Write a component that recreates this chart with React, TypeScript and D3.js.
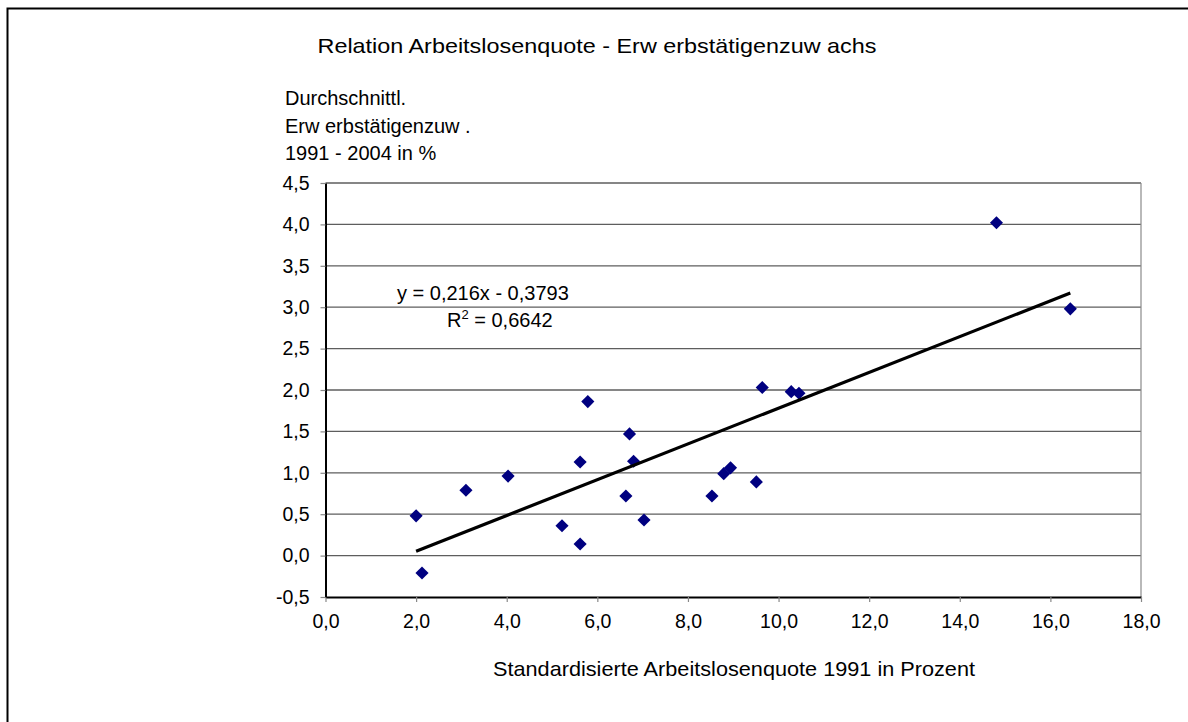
import React, { useEffect, useRef } from 'react';
import * as d3 from 'd3';

const width = 1188;
const height = 722;
const plot = { left: 325.5, right: 1141, top: 183, bottom: 597 };

const chartTitle = 'Relation Arbeitslosenquote - Erw erbstätigenzuw achs';
const yTitleLines = ['Durchschnittl.', 'Erw erbstätigenzuw .', '1991 - 2004 in %'];
const xTitle = 'Standardisierte Arbeitslosenquote 1991 in Prozent';

// standardised unemployment rate 1991 (%)
const unemployment = [2.0, 2.13, 3.1, 4.03, 5.22, 5.62, 5.62, 5.79, 6.63, 6.71, 6.8, 7.03, 8.53, 8.79, 8.94, 9.51, 9.64, 10.28, 10.45, 14.81, 16.44];
// average employment growth 1991 - 2004 (%)
const growth = [0.48, -0.21, 0.79, 0.96, 0.36, 0.14, 1.13, 1.86, 0.72, 1.47, 1.14, 0.43, 0.72, 0.99, 1.06, 0.89, 2.03, 1.98, 1.96, 4.02, 2.98];

const xTicks = [0, 2, 4, 6, 8, 10, 12, 14, 16, 18];
const yTicks = [-0.5, 0, 0.5, 1, 1.5, 2, 2.5, 3, 3.5, 4, 4.5];

const trendSlope = 0.216;
const trendIntercept = -0.3793;
const trendLabel = 'y = 0,216x - 0,3793';
const r2Value = '0,6642';

const font = '"Liberation Sans", Arial, sans-serif';
const fmt = d3.formatLocale({ decimal: ',', thousands: '.', grouping: [3], currency: ['', ' €'], minus: '-' }).format('.1f');

function App() {
  const ref = useRef<SVGSVGElement>(null);

  useEffect(() => {
    const svg = d3.select(ref.current);
    svg.selectAll('*').remove();

    const x = d3.scaleLinear().domain([0, 18]).range([plot.left, plot.right]);
    const y = d3.scaleLinear().domain([-0.5, 4.5]).range([plot.bottom, plot.top]);

    // outer frame
    svg.append('rect')
      .attr('x', 7.5).attr('y', 8.5)
      .attr('width', width + 20).attr('height', height + 20)
      .attr('fill', 'none').attr('stroke', '#000').attr('stroke-width', 2);

    // gridlines
    svg.append('g').selectAll('line')
      .data(yTicks.filter(d => d > -0.5))
      .enter().append('line')
      .attr('x1', plot.left).attr('x2', plot.right)
      .attr('y1', d => y(d)).attr('y2', d => y(d))
      .attr('stroke', '#5e5e5e').attr('stroke-width', 1.3);

    // right plot border
    svg.append('line')
      .attr('x1', plot.right).attr('x2', plot.right)
      .attr('y1', plot.top).attr('y2', plot.bottom)
      .attr('stroke', '#8a8a8a').attr('stroke-width', 1.2);

    // x axis
    const xAxis = d3.axisBottom(x).tickValues(xTicks).tickSize(5).tickSizeOuter(0).tickPadding(12)
      .tickFormat(d => fmt(d as number));
    const gx = svg.append('g')
      .attr('transform', 'translate(0,' + plot.bottom + ')')
      .call(xAxis);
    gx.select('.domain').attr('stroke', '#000').attr('stroke-width', 2);
    gx.selectAll('.tick line').attr('stroke', '#888').attr('stroke-width', 1.2);
    gx.selectAll('text').attr('font-family', font).attr('font-size', 19.5).attr('fill', '#000');

    // y axis
    const yAxis = d3.axisLeft(y).tickValues(yTicks).tickSize(5).tickSizeOuter(0).tickPadding(11)
      .tickFormat(d => fmt(d as number));
    const gy = svg.append('g')
      .attr('transform', 'translate(' + plot.left + ',0)')
      .call(yAxis);
    gy.select('.domain').attr('stroke', '#000').attr('stroke-width', 2);
    gy.selectAll('.tick line').attr('stroke', '#888').attr('stroke-width', 1.2);
    gy.selectAll('text').attr('font-family', font).attr('font-size', 19.5).attr('fill', '#000');

    // points
    svg.append('g').selectAll('path')
      .data(d3.range(unemployment.length))
      .enter().append('path')
      .attr('d', d3.symbol().type(d3.symbolSquare).size(86)())
      .attr('transform', i => 'translate(' + x(unemployment[i]) + ',' + y(growth[i]) + ') rotate(45)')
      .attr('fill', '#000080');

    // linear trend
    const xMin = d3.min(unemployment) as number;
    const xMax = d3.max(unemployment) as number;
    svg.append('path')
      .datum([xMin, xMax])
      .attr('d', d3.line<number>().x(d => x(d)).y(d => y(trendSlope * d + trendIntercept)))
      .attr('stroke', '#000').attr('stroke-width', 3.2).attr('fill', 'none');

    // trend label
    svg.append('text')
      .attr('x', 397).attr('y', 300)
      .attr('font-family', font).attr('font-size', 20)
      .text(trendLabel);
    const r2 = svg.append('text')
      .attr('x', 447).attr('y', 327)
      .attr('font-family', font).attr('font-size', 20);
    r2.append('tspan').text('R');
    r2.append('tspan').attr('font-size', 13).attr('dy', -8).text('2');
    r2.append('tspan').attr('dy', 8).text(' = ' + r2Value);

    // titles
    svg.append('text')
      .attr('x', 597).attr('y', 53)
      .attr('text-anchor', 'middle')
      .attr('font-family', font).attr('font-size', 21)
      .attr('textLength', 559).attr('lengthAdjust', 'spacingAndGlyphs')
      .text(chartTitle);

    svg.append('g').selectAll('text')
      .data(yTitleLines)
      .enter().append('text')
      .attr('x', 285).attr('y', (d, i) => 105 + i * 27.5)
      .attr('font-family', font).attr('font-size', 20)
      .text(d => d);

    svg.append('text')
      .attr('x', 734).attr('y', 676)
      .attr('text-anchor', 'middle')
      .attr('font-family', font).attr('font-size', 21)
      .attr('textLength', 482).attr('lengthAdjust', 'spacingAndGlyphs')
      .text(xTitle);
  }, []);

  return (
    <svg
      ref={ref}
      width={width}
      height={height}
      style={{ position: 'absolute', left: 0, top: 0, background: '#fff' }}
    ></svg>
  );
}

export default App;
